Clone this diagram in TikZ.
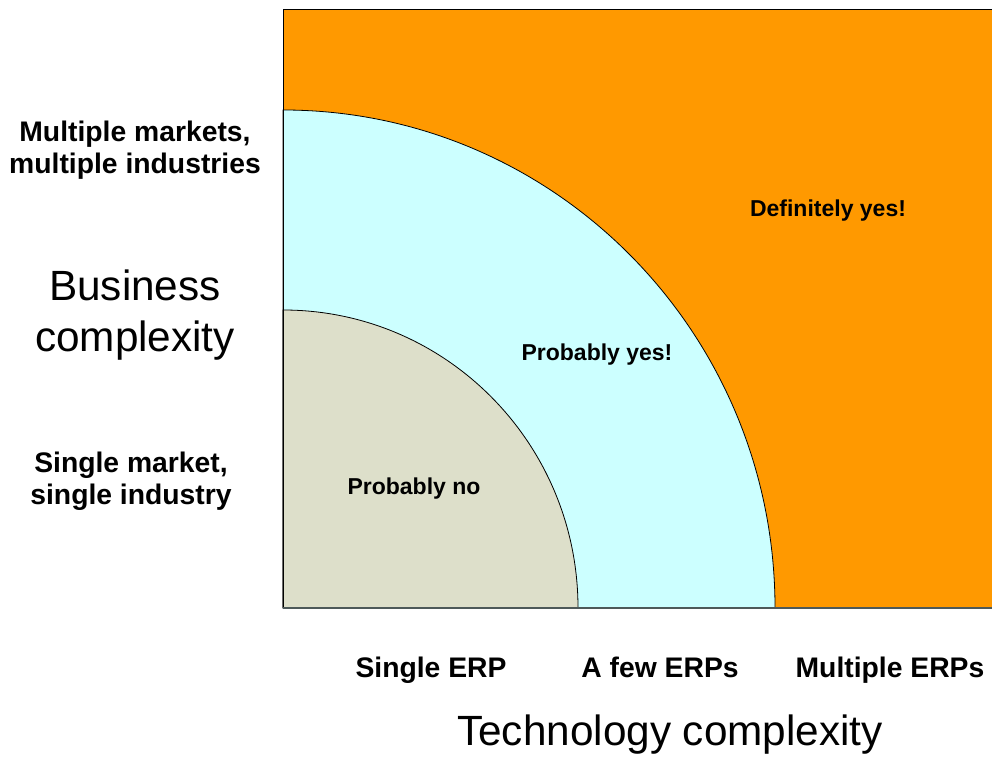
\documentclass[tikz,border=0pt]{standalone}
\usepackage{fontspec}
\setmainfont{Liberation Sans}
\definecolor{hot}{HTML}{FF9900}
\definecolor{warm}{HTML}{CCFFFF}
\definecolor{cold}{HTML}{DDDFCA}
\definecolor{rim}{HTML}{4D5959}
\newcommand{\catfont}{\fontsize{28.3}{32.5}\selectfont\bfseries}
\newcommand{\zonefont}{\fontsize{23}{28}\selectfont\bfseries}
\newcommand{\axisfont}{\fontsize{42.3}{51}\selectfont}

\begin{document}
\begin{tikzpicture}[x=1pt,y=1pt,
 every node/.style={align=center,inner sep=0pt},
 cat/.style={font=\catfont},
 zone/.style={font=\zonefont},
 axis/.style={font=\axisfont}]
\useasboundingbox (0,0) rectangle (992,756);
% the three regions
\fill[hot] (283,148) rectangle (992,746);
\filldraw[fill=warm,draw=black,line width=0.8pt]
  (283,148) -- (775,148) arc[start angle=0,end angle=90,x radius=492,y radius=498] -- cycle;
\filldraw[fill=cold,draw=black,line width=0.8pt]
  (283,148) -- (578,148) arc[start angle=0,end angle=90,x radius=295,y radius=298] -- cycle;
\draw[line width=1pt] (992,746) -- (283,746) -- (283,148);
\draw[rim,line width=1.2pt] (283,148) -- (992,148);
% zone labels
\node[zone] (no)  at (414,267) {Probably no};
\node[zone] (yes) at (597,401) {Probably yes!};
\node[zone] (def) at (828,545) {Definitely yes!};
% business axis
\node[cat]  (many) at (135,606) {Multiple markets,\\multiple industries};
\node[axis] (biz)  at (135,441) {Business\\complexity};
\node[cat]  (one)  at (131,275) {Single market,\\single industry};
% technology axis
\node[cat,anchor=base] (erp1) at (431,79) {Single ERP};
\node[cat,anchor=base] (erp2) at (660,79) {A few ERPs};
\node[cat,anchor=base] (erp3) at (890,79) {Multiple ERPs};
\node[axis] (tech) at (670,21) {Technology complexity};
\end{tikzpicture}
\end{document}
